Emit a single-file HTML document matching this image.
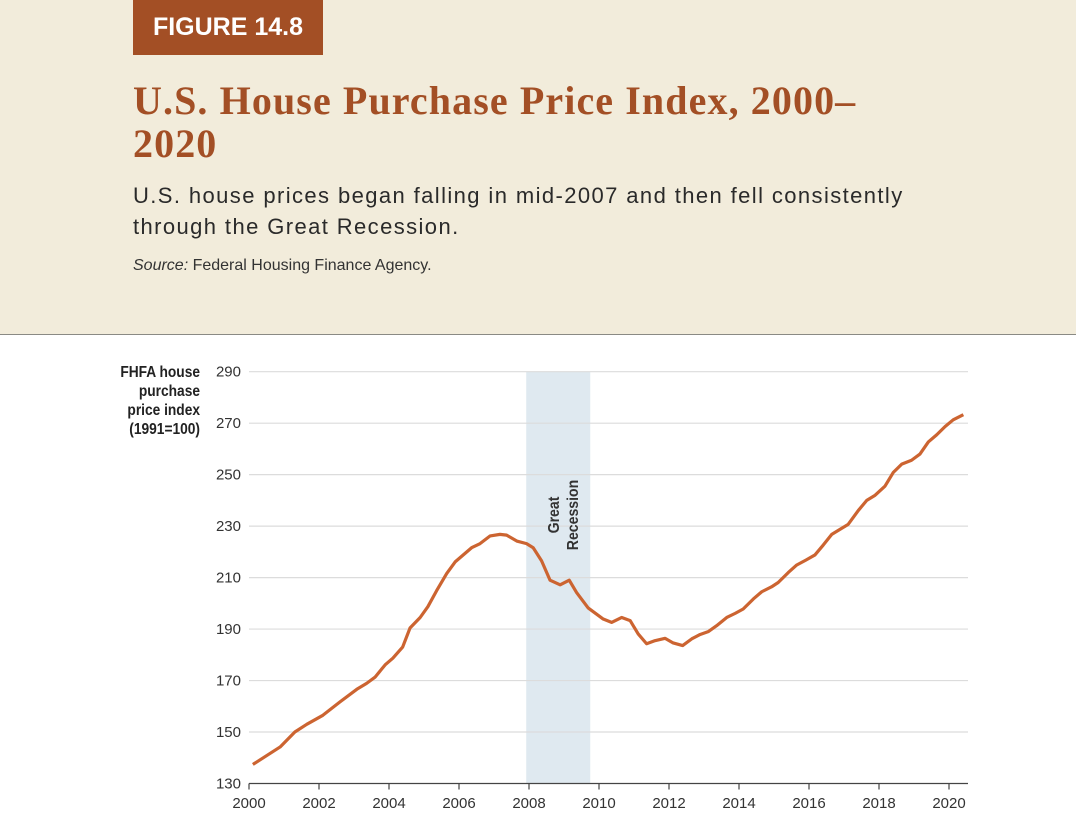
<!DOCTYPE html>
<html><head><meta charset="utf-8"><style>
body{margin:0;width:1076px;height:840px;background:#fff;font-family:"Liberation Sans",sans-serif;overflow:hidden;position:relative}
#hdr{position:absolute;left:0;top:0;width:1076px;height:334px;background:#f2ecdb;border-bottom:1.5px solid #8a8a84}
#badge{position:absolute;left:133px;top:0;width:190px;height:55px;background:#a34f25;color:#fff;font-weight:bold;font-size:25px;line-height:55px;text-align:center}
#title{position:absolute;left:133px;top:79px;width:740px;font-family:"Liberation Serif",serif;font-weight:bold;font-size:40px;line-height:43px;letter-spacing:1.1px;color:#a34f25}
#sub{position:absolute;left:133px;top:180px;width:790px;font-size:22px;line-height:31px;color:#2a2a2a;letter-spacing:1.4px}
#src{position:absolute;left:133px;top:257px;font-size:16px;color:#333}
svg{position:absolute;left:0;top:0}
</style></head><body>
<div id="hdr">
<div id="badge">FIGURE 14.8</div>
<div id="title">U.S. House Purchase Price Index, 2000–2020</div>
<div id="sub">U.S. house prices began falling in mid-2007 and then fell consistently through the Great Recession.</div>
<div id="src"><i>Source:</i> Federal Housing Finance Agency.</div>
</div>
<svg id="chart" width="1076" height="840"></svg>
<script>
const years=[2000.11,2000.89,2001.31,2001.65,2002.11,2002.6,2003.08,2003.36,2003.6,2003.89,2004.11,2004.39,2004.6,2004.89,2005.11,2005.36,2005.65,2005.89,2006.36,2006.6,2006.89,2007.17,2007.36,2007.65,2007.93,2008.12,2008.36,2008.6,2008.89,2009.15,2009.36,2009.69,2010.12,2010.36,2010.65,2010.89,2011.12,2011.36,2011.6,2011.89,2012.12,2012.39,2012.65,2012.89,2013.12,2013.36,2013.65,2013.89,2014.12,2014.41,2014.65,2014.93,2015.12,2015.41,2015.65,2015.91,2016.17,2016.41,2016.65,2016.89,2017.12,2017.41,2017.65,2017.89,2018.17,2018.41,2018.65,2018.93,2019.17,2019.41,2019.65,2019.89,2020.12,2020.41];
const hpi=[137.4,144.2,150,153,156.5,161.7,166.6,168.9,171.3,176.1,178.7,183,190.4,194.5,198.7,204.9,211.6,216.1,221.6,223.2,226.2,226.8,226.5,224.2,223.2,221.6,216.5,209,207.2,209,204.2,198.2,193.9,192.6,194.5,193.3,188.1,184.3,185.5,186.4,184.6,183.6,186.2,187.9,189,191.3,194.5,196.1,197.8,201.7,204.5,206.4,208.1,212,214.9,216.8,218.8,222.7,226.8,228.8,230.7,236.1,240,242,245.5,250.9,254.1,255.6,258,262.7,265.5,268.7,271.3,273.3];
const yTicks=[130,150,170,190,210,230,250,270,290];
const xTicks=[2000,2002,2004,2006,2008,2010,2012,2014,2016,2018,2020];
const recession=[2007.92,2009.75];
const NS="http://www.w3.org/2000/svg",svg=document.getElementById('chart');
const X0=249,X1=949,Y0=783.5,Y1=371.7;
const xs=v=>X0+(v-2000)/20*(X1-X0), ys=v=>Y0-(v-130)/160*(Y0-Y1);
function mk(t,a,p){const e=document.createElementNS(NS,t);for(const k in a)e.setAttribute(k,a[k]);(p||svg).appendChild(e);return e;}
const band=mk('rect',{x:xs(recession[0]),y:Y1,width:xs(recession[1])-xs(recession[0]),height:Y0-Y1,fill:'#dfe9f0'});


yTicks.forEach(v=>{
 if(v>130){const g=mk('line',{x1:X0,x2:968,y1:ys(v),y2:ys(v),stroke:'#dcdcdc','stroke-width':1.2});
 
 }
 const t=mk('text',{x:241,y:ys(v)+5,'text-anchor':'end','font-size':15,fill:'#333'});t.textContent=v;
 
 
});
const ax=mk('line',{x1:X0,x2:968,y1:Y0,y2:Y0,stroke:'#444','stroke-width':1.3});


xTicks.forEach(v=>{
 mk('line',{x1:xs(v),x2:xs(v),y1:Y0,y2:Y0+6,stroke:'#444','stroke-width':1.2});
 const t=mk('text',{x:xs(v),y:808,'text-anchor':'middle','font-size':15,fill:'#333'});t.textContent=v;
 
 
});
const rl=mk('text',{transform:`translate(${(xs(recession[0])+xs(recession[1]))/2+4},515) rotate(-90) scale(0.88,1)`,'text-anchor':'middle','font-size':16,'font-weight':'bold',fill:'#333'});


mk('tspan',{x:0,dy:-3},rl).textContent='Great';
mk('tspan',{x:0,dy:19},rl).textContent='Recession';
const line=mk('polyline',{points:years.map((y,i)=>xs(y)+','+ys(hpi[i])).join(' '),fill:'none',stroke:'#cc6431','stroke-width':3.2,'stroke-linejoin':'round'});


const yt=mk('text',{'text-anchor':'end','font-size':16,'font-weight':'bold',fill:'#222',transform:'translate(200,0) scale(0.86,1) translate(-200,0)'});


['FHFA house','purchase','price index','(1991=100)'].forEach((s,i)=>{mk('tspan',{x:200,y:377+i*19},yt).textContent=s;});
</script>
</body></html>
